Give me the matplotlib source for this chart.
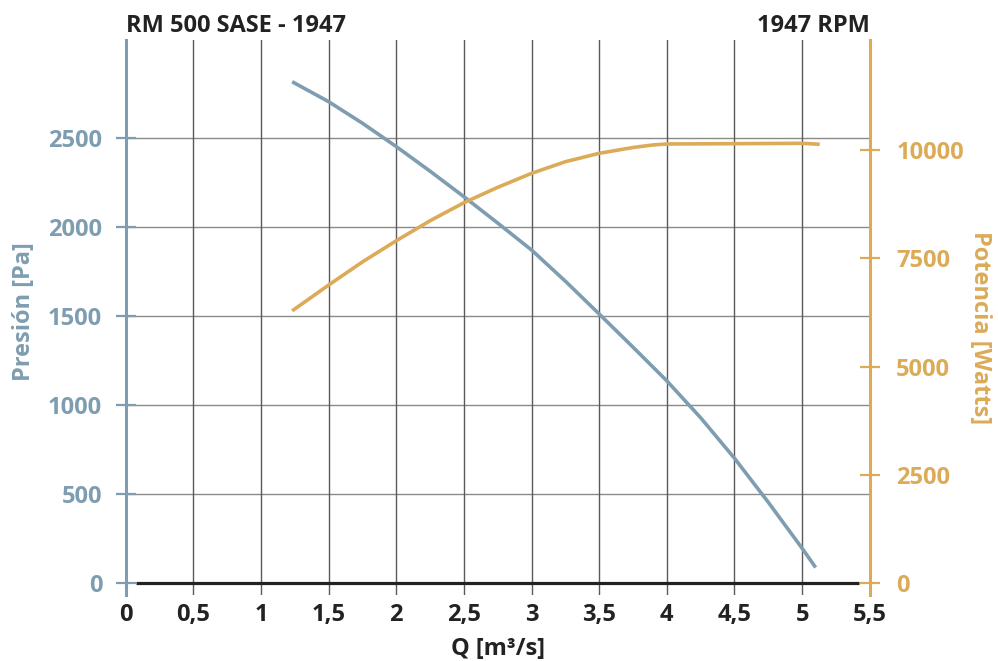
import matplotlib
matplotlib.use('Agg')
import matplotlib.pyplot as plt

# curve data
q_pres = [1.23, 1.5, 1.75, 2.0, 2.25, 2.5, 2.75, 3.0, 3.25, 3.5,
          3.75, 4.0, 4.25, 4.5, 4.75, 5.0, 5.10]
presion = [2814, 2702, 2581, 2450, 2312, 2169, 2021, 1870, 1695, 1511,
           1325, 1136, 929, 702, 455, 197, 89]

q_pot = [1.23, 1.5, 1.75, 2.0, 2.25, 2.5, 2.75, 3.0, 3.25, 3.5,
         3.75, 3.9, 4.0, 4.5, 5.0, 5.13]
potencia = [6290, 6886, 7420, 7909, 8370, 8786, 9141, 9464, 9732, 9926,
            10060, 10120, 10141, 10148, 10157, 10134]

x_ticks = [0, 0.5, 1, 1.5, 2, 2.5, 3, 3.5, 4, 4.5, 5, 5.5]
x_labels = ['0', '0,5', '1', '1,5', '2', '2,5', '3', '3,5', '4', '4,5', '5', '5,5']
pres_ticks = [0, 500, 1000, 1500, 2000, 2500]
pot_ticks = [0, 2500, 5000, 7500, 10000]

BLUE = '#7f9db0'
GOLD = '#dcab58'
DARK = '#222222'
FS = 17

plt.rcParams['font.family'] = 'Open Sans'

fig = plt.figure(figsize=(9.98, 6.61), dpi=100)
ax = fig.add_axes([0.126, 1 - 595 / 661, 0.7455, (595 - 40) / 661])
ax2 = ax.twinx()

ax.set_xlim(0, 5.5)
ax.set_ylim(-65, 3048)
ax2.set_ylim(-268, 12541)

# grid
for v in pres_ticks[1:]:
    ax.axhline(v, color='#8a8a8a', lw=1.0, zorder=1)
for v in x_ticks[1:-1]:
    ax.axvline(v, color='#5a5a5a', lw=1.0, zorder=1)
ax.hlines(0, 0.076, 5.42, color=DARK, lw=2.3, zorder=3)

ax.plot(q_pres, presion, color=BLUE, lw=2.6, zorder=4, solid_capstyle='butt')
ax2.plot(q_pot, potencia, color=GOLD, lw=2.6, zorder=4, solid_capstyle='butt')

for s in ['top', 'bottom', 'right']:
    ax.spines[s].set_visible(False)
for s in ['top', 'bottom', 'left']:
    ax2.spines[s].set_visible(False)
ax.spines['left'].set_color(BLUE)
ax.spines['left'].set_linewidth(2.2)
ax2.spines['right'].set_color(GOLD)
ax2.spines['right'].set_linewidth(2.2)

ax.set_xticks(x_ticks)
ax.set_xticklabels(x_labels, fontsize=FS, fontweight='bold', color=DARK)
ax.tick_params(axis='x', length=0, pad=6)

ax.set_yticks(pres_ticks)
ax.set_yticklabels([str(v) for v in pres_ticks], fontsize=FS, fontweight='bold', color=BLUE)
ax.tick_params(axis='y', direction='inout', length=14, width=1.6, color=BLUE, pad=10)

ax2.set_yticks(pot_ticks)
ax2.set_yticklabels([str(v) for v in pot_ticks], fontsize=FS, fontweight='bold', color=GOLD)
ax2.tick_params(axis='y', direction='inout', length=14, width=1.6, color=GOLD, pad=12)

ax.set_xlabel('Q [m³/s]', fontsize=FS, fontweight='bold', color=DARK, labelpad=7)
ax.set_ylabel('Presión [Pa]', fontsize=FS, fontweight='bold', color=BLUE)
ax.yaxis.set_label_coords(-0.121, 0.51)
ax2.set_ylabel('Potencia [Watts]', fontsize=FS, fontweight='bold', color=GOLD,
               rotation=270, va='center')
ax2.yaxis.set_label_coords(1.148, 0.481)

ax.set_title('RM 500 SASE - 1947', loc='left', fontsize=FS, fontweight='bold',
             color=DARK, pad=6)
ax.set_title('1947 RPM', loc='right', fontsize=FS, fontweight='bold',
             color=DARK, pad=6)

fig.savefig('out.png', dpi=100)
